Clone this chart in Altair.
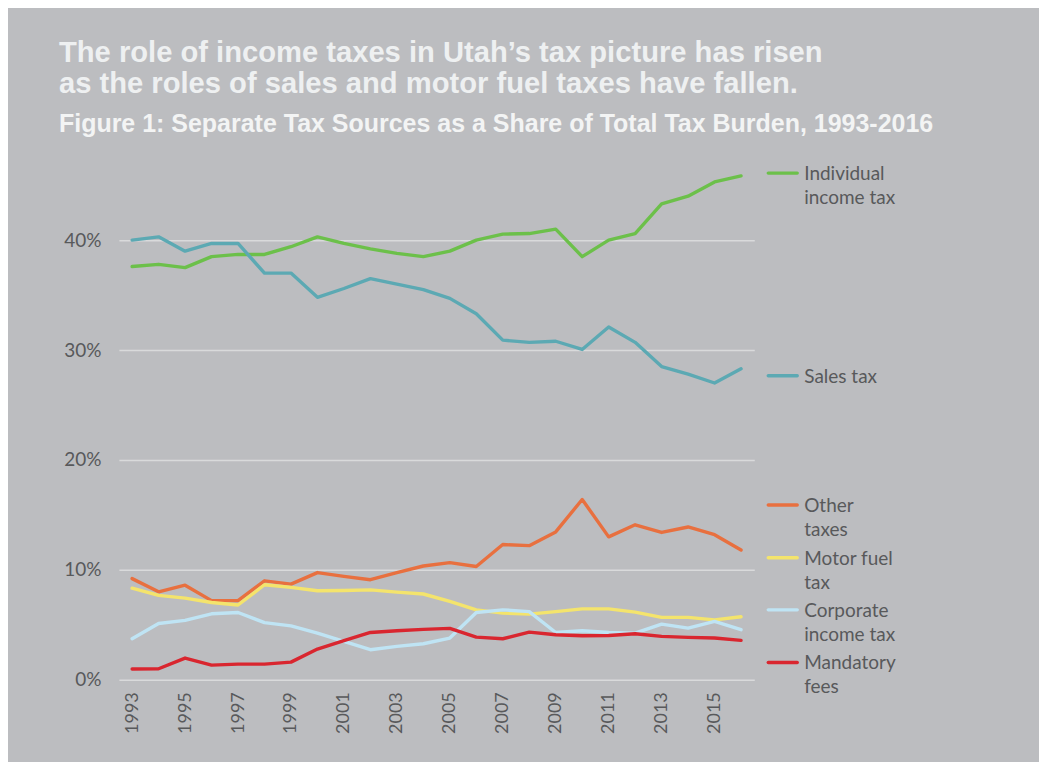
import altair as alt
import pandas as pd

years = list(range(1993, 2017))

series = ["Other taxes", "Motor fuel tax", "Corporate income tax",
          "Mandatory fees", "Individual income tax", "Sales tax"]
colors = ["#e8703f", "#f4e46c", "#bfe4f4", "#d9262f", "#6cc04a", "#5ca9b3"]
widths = [3.4, 3.4, 3.4, 3.6, 6.5, 6.5]

individual_income = [37.6, 37.8, 37.5, 38.5, 38.7, 38.7, 39.4, 40.3, 39.7, 39.2, 38.8, 38.5,
                     39.0, 40.0, 40.55, 40.6, 41.0, 38.5, 40.0, 40.6, 43.3, 44.0, 45.3, 45.85]
sales = [40.0, 40.3, 39.0, 39.7, 39.7, 37.0, 37.0, 34.8, 35.6, 36.5, 36.0, 35.5,
         34.7, 33.3, 30.9, 30.7, 30.8, 30.05, 32.1, 30.7, 28.5, 27.8, 27.0, 28.3]
other = [9.2, 8.0, 8.6, 7.2, 7.2, 9.0, 8.7, 9.75, 9.4, 9.1, 9.75, 10.35,
         10.65, 10.3, 12.3, 12.2, 13.45, 16.4, 13.0, 14.1, 13.4, 13.9, 13.2, 11.8]
motor_fuel = [8.33, 7.67, 7.42, 7.03, 6.8, 8.64, 8.4, 8.1, 8.12, 8.18, 7.97, 7.8,
              7.12, 6.36, 6.06, 5.97, 6.2, 6.45, 6.45, 6.15, 5.67, 5.67, 5.45, 5.73]
corporate = [3.73, 5.12, 5.4, 6.0, 6.12, 5.2, 4.9, 4.24, 3.48, 2.73, 3.03, 3.27,
             3.79, 6.12, 6.36, 6.2, 4.3, 4.45, 4.3, 4.24, 5.06, 4.7, 5.3, 4.55]
mandatory_fees = [0.97, 1.0, 1.97, 1.33, 1.42, 1.42, 1.6, 2.79, 3.55, 4.3, 4.45, 4.58,
                  4.67, 3.88, 3.73, 4.33, 4.09, 4.0, 4.03, 4.18, 3.94, 3.85, 3.8, 3.58]

values_by_series = {
    "Other taxes": other,
    "Motor fuel tax": motor_fuel,
    "Corporate income tax": corporate,
    "Mandatory fees": mandatory_fees,
    "Individual income tax": individual_income,
    "Sales tax": sales,
}

x_ticks = list(range(1993, 2016, 2))
y_ticks = [0, 10, 20, 30, 40]

legend_labels = {
    "Individual income tax": "Individual\nincome tax",
    "Sales tax": "Sales tax",
    "Other taxes": "Other\ntaxes",
    "Motor fuel tax": "Motor fuel\ntax",
    "Corporate income tax": "Corporate\nincome tax",
    "Mandatory fees": "Mandatory\nfees",
}
# vertical anchor of each legend entry, in axis units (layout only)
legend_anchor = {
    "Individual income tax": 46.1,
    "Sales tax": 27.66,
    "Other taxes": 15.9,
    "Motor fuel tax": 11.1,
    "Corporate income tax": 6.36,
    "Mandatory fees": 1.57,
}

rows = []
for s in series:
    for yr, v in zip(years, values_by_series[s]):
        rows.append({"year": yr, "value": v, "series": s})
df = pd.DataFrame(rows)

leg = pd.DataFrame({
    "series": series,
    "label": [legend_labels[s] for s in series],
    "value": [legend_anchor[s] for s in series],
})

FONT = "Lato"
TITLE_FONT = "'Liberation Sans', Arial, sans-serif"
TXT = "#58595b"
BG = "#bcbdc0"

color_scale = alt.Scale(domain=series, range=colors)
width_scale = alt.Scale(domain=series, range=widths)
y_scale = alt.Scale(domain=[0, 47], nice=False, zero=True)

lines = alt.Chart(df).mark_line(strokeCap="round", strokeJoin="round").encode(
    x=alt.X("year:Q",
            scale=alt.Scale(domain=[1992.5, 2016.5], nice=False, zero=False),
            axis=alt.Axis(values=x_ticks, format="d", labelAngle=270, labelAlign="right",
                          labelBaseline="middle", labelPadding=12, ticks=False, tickSize=0,
                          domain=False, grid=False, title=None, labelFont=FONT,
                          labelFontSize=18, labelColor=TXT)),
    y=alt.Y("value:Q", scale=y_scale,
            axis=alt.Axis(values=y_ticks, labelExpr="datum.value + '%'", ticks=False,
                          tickSize=0, domain=False, grid=True, gridColor="#d9dadb",
                          gridWidth=1.5, labelPadding=18, title=None, labelFont=FONT,
                          labelFontSize=19, labelColor=TXT)),
    color=alt.Color("series:N", scale=color_scale, legend=None),
    strokeWidth=alt.StrokeWidth("series:N", scale=width_scale, legend=None),
    detail="series:N",
)

swatches = alt.Chart(leg).mark_rule(strokeCap="round").encode(
    x=alt.value(650),
    x2=alt.value(679),
    y=alt.Y("value:Q", scale=y_scale),
    color=alt.Color("series:N", scale=color_scale, legend=None),
    strokeWidth=alt.StrokeWidth("series:N", scale=width_scale, legend=None),
)

labels = alt.Chart(leg).mark_text(
    align="left", baseline="alphabetic", dy=7, lineBreak="\n", lineHeight=24,
    font=FONT, fontSize=19, color=TXT,
).encode(
    x=alt.value(686),
    y=alt.Y("value:Q", scale=y_scale),
    text="label:N",
)

chart = alt.layer(lines, swatches, labels).properties(
    width=636,
    height=517,
    autosize=alt.AutoSizeParams(type="none"),
    padding={"left": 111, "top": 155, "right": 285, "bottom": 92},
    title=alt.TitleParams(
        text=["The role of income taxes in Utah\u2019s tax picture has risen",
              "as the roles of sales and motor fuel taxes have fallen."],
        subtitle="Figure 1: Separate Tax Sources as a Share of Total Tax Burden, 1993-2016",
        anchor="start", frame="group", dx=-60, offset=26,
        font=TITLE_FONT, fontSize=29.2, fontWeight="bold", color="#eef0f1",
        lineHeight=31,
        subtitleFont=TITLE_FONT, subtitleFontSize=25,
        subtitleFontWeight="bold", subtitleColor="#f3f4f4", subtitlePadding=13,
    ),
).configure(background=BG).configure_view(stroke=None)

chart.save("out.html", embed_options={"renderer": "svg", "actions": False})
